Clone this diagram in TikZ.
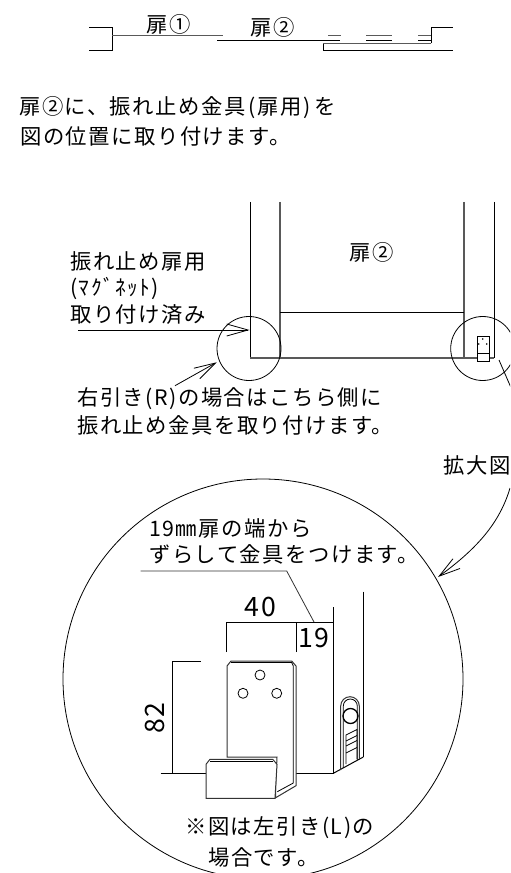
\documentclass[tikz,border=0pt]{standalone}
\usepackage{fontspec}
\setmainfont[LetterSpace=7]{Noto Sans CJK JP}
\usetikzlibrary{arrows.meta,positioning,calc}
\tikzset{
    txt/.style={anchor=west,inner sep=0pt,font=\fontsize{16}{16}\selectfont},
    midtxt/.style={anchor=center,inner sep=0pt,font=\fontsize{16}{16}\selectfont},
    dimtxt/.style={anchor=center,inner sep=0pt,font=\fontsize{20}{20}\selectfont},
    wall/.style={line width=0.75pt},
    door/.style={line width=1pt,black!65},
    thin/.style={line width=0.6pt},
    lead/.style={line width=0.6pt,-{Straight Barb[length=16pt,width=9pt]}},
    part/.style={line width=0.75pt,black!80,fill=white}
}
\begin{document}
\begin{tikzpicture}[x=0.75pt,y=-0.75pt]
    \useasboundingbox (0,0) rectangle (510,873);
    \clip (0,0) rectangle (510,873);

    % Top plan
    \draw[wall] (89,28) -- (112,28) -- (112,51) -- (89,51);
    \draw[door] (112,35.5) -- (223,35.5);
    \draw[wall] (217,40.5) -- (340,40.5);
    \draw[wall] (323,43.5) -- (323,51) -- (453,51);
    \draw[door] (323,43.5) -- (431,43.5);
    \draw[wall] (431,43.5) -- (431,28) -- (453,28);
    \foreach \a/\b in {328/341,366/392,418/431} {
        \draw[door,line width=0.75pt] (\a,35.5) -- (\b,35.5);
    }
    \foreach \a/\b in {366/392,418/431} {
        \draw[wall] (\a,40.5) -- (\b,40.5);
    }
    \node[midtxt] (doorA) at (169,24) {扉①};
    \node[midtxt] (doorB) at (273,27) {扉②};

    % Instruction
    \node[txt] (noteA) at (19,108) {扉②に、振れ止め金具\,(扉用)\,を};
    \node[txt] (noteB) at (20,136) {図の位置に取り付けます。};

    % Door elevation
    \draw[wall] (250,202) -- (250,358);
    \draw[door] (280,202) -- (280,358);
    \draw[door] (464,202) -- (464,358);
    \draw[wall] (494,202) -- (494,358);
    \draw[wall] (280,312) -- (464,312);
    \draw[door] (250,358) -- (494,358);
    \node[midtxt] (doorC) at (372,252) {扉②};

    % Bracket on door
    \draw[thin,fill=white] (477,336) rectangle (489,361);
    \draw[thin] (477,353) -- (489,353);
    \foreach \x/\y in {482.7/339,478.7/344,486.7/344} {
        \fill (\x,\y) circle (0.8);
    }

    % Detail circles
    \node[draw,circle,thin,minimum size=48pt,inner sep=0pt] (circL) at (249,348.5) {};
    \node[draw,circle,thin,minimum size=48pt,inner sep=0pt] (circR) at (482.7,348.5) {};
    \node[draw,circle,thin,minimum size=300pt,inner sep=0pt] (circB) at (263,679) {};

    % Left labels
    \node[txt] (magA) at (70,262) {振れ止め扉用};
    \node[txt] (magB) at (70,288) {(ﾏｸﾞﾈｯﾄ)};
    \node[txt] (magC) at (70,314) {取り付け済み};
    \coordinate (magS) at (78,330);
    \coordinate (magE) at (249.5,330);
    \draw[lead] (magS) -- (magE);
    \node[txt] (sideA) at (77,399) {右引き(R)の場合はこちら側に};
    \node[txt] (sideB) at (77,425) {振れ止め金具を取り付けます。};
    \coordinate (sideS) at (175,385.7);
    \coordinate (sideE) at (216.7,362.3);
    \draw[lead] (sideS) -- (sideE);

    % Enlarged view leader
    \node[txt,anchor=east] (zoomLbl) at (511,465) {拡大図};
    \coordinate (zoomA) at (499,360);
    \coordinate (zoomB) at (512,390);
    \draw[thin] (zoomA) -- (zoomB);
    \coordinate (zoomC) at (510,488);
    \coordinate (zoomD) at (438,577);
    \draw[lead] (zoomC) .. controls (500,522) and (478,548) .. (zoomD);

    % Enlarged view notes
    \node[txt] (offA) at (149,529) {19㎜扉の端から};
    \node[txt] (offB) at (149,554) {ずらして金具をつけます。};
    \coordinate (offS) at (140.7,571);
    \coordinate (offM) at (286.7,571);
    \coordinate (offE) at (314,622);
    \draw[thin,black!80] (offS) -- (offM) -- (offE);
    \node[txt] (figA) at (185,828) {※図は左引き(L)の};
    \node[txt] (figB) at (208,857) {場合です。};

    % Dimensions
    \draw[thin] (226.7,652) -- (226.7,622) -- (333.3,622);
    \draw[thin] (296,652) -- (296,622);
    \draw[thin] (172.3,773.3) -- (172.3,661) -- (200.7,661);
    \draw[thin] (160.7,773.3) -- (206,773.3);
    \node[dimtxt] (dimA) at (260.7,607) {40};
    \node[dimtxt] (dimB) at (314,638) {19};
    \node[dimtxt,rotate=90] (dimC) at (155,718) {82};

    % Door corner
    \draw[wall] (333.3,607) -- (333.3,773.3) -- (296,773.3);
    \draw[wall] (333.3,773.3) -- (363.3,757);
    \draw[wall] (363.3,591.7) -- (363.3,757);

    % Magnet
    \draw[part,fill=none] (340.7,770) -- (340.7,706) arc (180:360:9.3) -- (359.3,759);
    \draw[thin] (343.3,768) -- (343.3,706) arc (180:360:7) -- (357.3,760);
    \draw[line width=1pt] (350.5,716) circle (7.5);
    \draw[thin] (346,764) -- (346,735) -- (357,729.5) -- (357,759);
    \draw[thin] (346,741) -- (357,735.5);
    \draw[thin] (346,746) -- (357,740.5);
    \draw[thin] (346,753) -- (357,747.5);

    % Bracket
    \draw[part] (227,757) -- (227,666) -- (231,661) -- (291.7,661) -- (296,666)
                -- (296,785.7) -- (275.7,797.7) -- (275.7,785) -- (277,757) -- cycle;
    \draw[thin] (231,662.5) -- (291.7,662.5) -- (293.3,666) -- (293.3,783) -- (277.3,791.7);
    \foreach \x/\y in {260/675,243/693.3,276.7/693.3} {
        \draw[thin,fill=white] (\x,\y) circle (5);
    }
    \draw[part] (206,798.3) -- (206,764.3) -- (210,759.3) -- (272.7,759.3) -- (277,764.3)
                -- (275,798.3) -- cycle;
    \draw[thin] (210,761) -- (272.7,761);
\end{tikzpicture}
\end{document}
